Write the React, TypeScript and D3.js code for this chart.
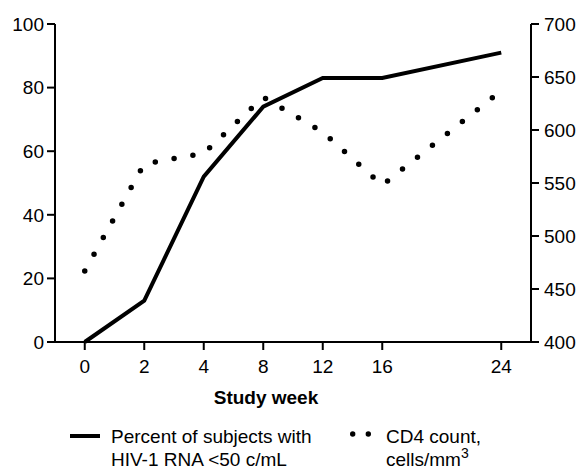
import React from "react";
import * as d3 from "d3";

// study weeks and their slot on the (uneven) x axis
const weeks = ["0", "2", "4", "8", "12", "16", "24"];
const weekSlot = [0, 1, 2, 3, 4, 5, 7];
const pctSuppressed = [0, 13, 52, 74, 83, 83, 91];
const cd4Count = [467, 568, 578, 631, 598, 548, 637];
const leftTicks = [0, 20, 40, 60, 80, 100];
const rightTicks = [400, 450, 500, 550, 600, 650, 700];

const W = 584;
const H = 468;
const font = "'Liberation Sans', Arial, sans-serif";
const fs = 19;

export default function App() {
  const x = d3.scaleLinear().domain([-0.5, 7.5]).range([55, 531]);
  const yL = d3.scaleLinear().domain([0, 100]).range([342, 24]);
  const yR = d3.scaleLinear().domain([400, 700]).range([342, 24]);

  const solid = d3
    .line<number>()
    .x((_, i) => x(weekSlot[i]))
    .y((d) => yL(d))(pctSuppressed);
  const dotted = d3
    .line<number>()
    .x((_, i) => x(weekSlot[i]))
    .y((d) => yR(d))(cd4Count);

  const [x0, x1] = x.range();
  const [yb, yt] = yL.range();

  return (
    <svg
      width={W}
      height={H}
      style={{ position: "absolute", left: 0, top: 0, background: "#fff" }}
      fontFamily={font}
    >
      {/* axes */}
      <g stroke="#000" strokeWidth={2} fill="none">
        <line x1={x0} y1={yt} x2={x0} y2={yb} />
        <line x1={x1} y1={yt} x2={x1} y2={yb} />
        <line x1={x0} y1={yb} x2={x1} y2={yb} />
      </g>
      {leftTicks.map((t) => (
        <g key={"l" + t}>
          <line x1={x0 - 8} x2={x0} y1={yL(t)} y2={yL(t)} stroke="#000" strokeWidth={2} />
          <text x={x0 - 11} y={yL(t)} dy="0.36em" textAnchor="end" fontSize={fs}>
            {t}
          </text>
        </g>
      ))}
      {rightTicks.map((t) => (
        <g key={"r" + t}>
          <line x1={x1} x2={x1 + 8} y1={yR(t)} y2={yR(t)} stroke="#000" strokeWidth={2} />
          <text x={x1 + 13} y={yR(t)} dy="0.36em" textAnchor="start" fontSize={fs}>
            {t}
          </text>
        </g>
      ))}
      {weeks.map((w, i) => (
        <g key={"x" + w}>
          <line
            x1={x(weekSlot[i])}
            x2={x(weekSlot[i])}
            y1={yb}
            y2={yb + 8}
            stroke="#000"
            strokeWidth={2}
          />
          <text x={x(weekSlot[i])} y={373} textAnchor="middle" fontSize={fs}>
            {w}
          </text>
        </g>
      ))}
      <text x={266} y={404} textAnchor="middle" fontSize={fs} fontWeight="bold">
        Study week
      </text>

      {/* series */}
      <path
        d={dotted ?? ""}
        fill="none"
        stroke="#000"
        strokeWidth={5.5}
        strokeLinecap="round"
        strokeDasharray="0 19.1"
      />
      <path d={solid ?? ""} fill="none" stroke="#000" strokeWidth={4} strokeLinejoin="miter" />

      {/* legend */}
      <line x1={70} x2={100} y1={436} y2={436} stroke="#000" strokeWidth={4} />
      <text x={111} y={443} fontSize={fs}>
        Percent of subjects with
      </text>
      <text x={111} y={466} fontSize={fs}>
        HIV-1 RNA &lt;50 c/mL
      </text>
      <circle cx={352.7} cy={434} r={2.7} fill="#000" />
      <circle cx={368.3} cy={434} r={2.7} fill="#000" />
      <text x={386} y={443} fontSize={fs}>
        CD4 count,
      </text>
      <text x={386} y={466} fontSize={fs}>
        cells/mm<tspan dy={-8} fontSize={14}>3</tspan>
      </text>
    </svg>
  );
}
